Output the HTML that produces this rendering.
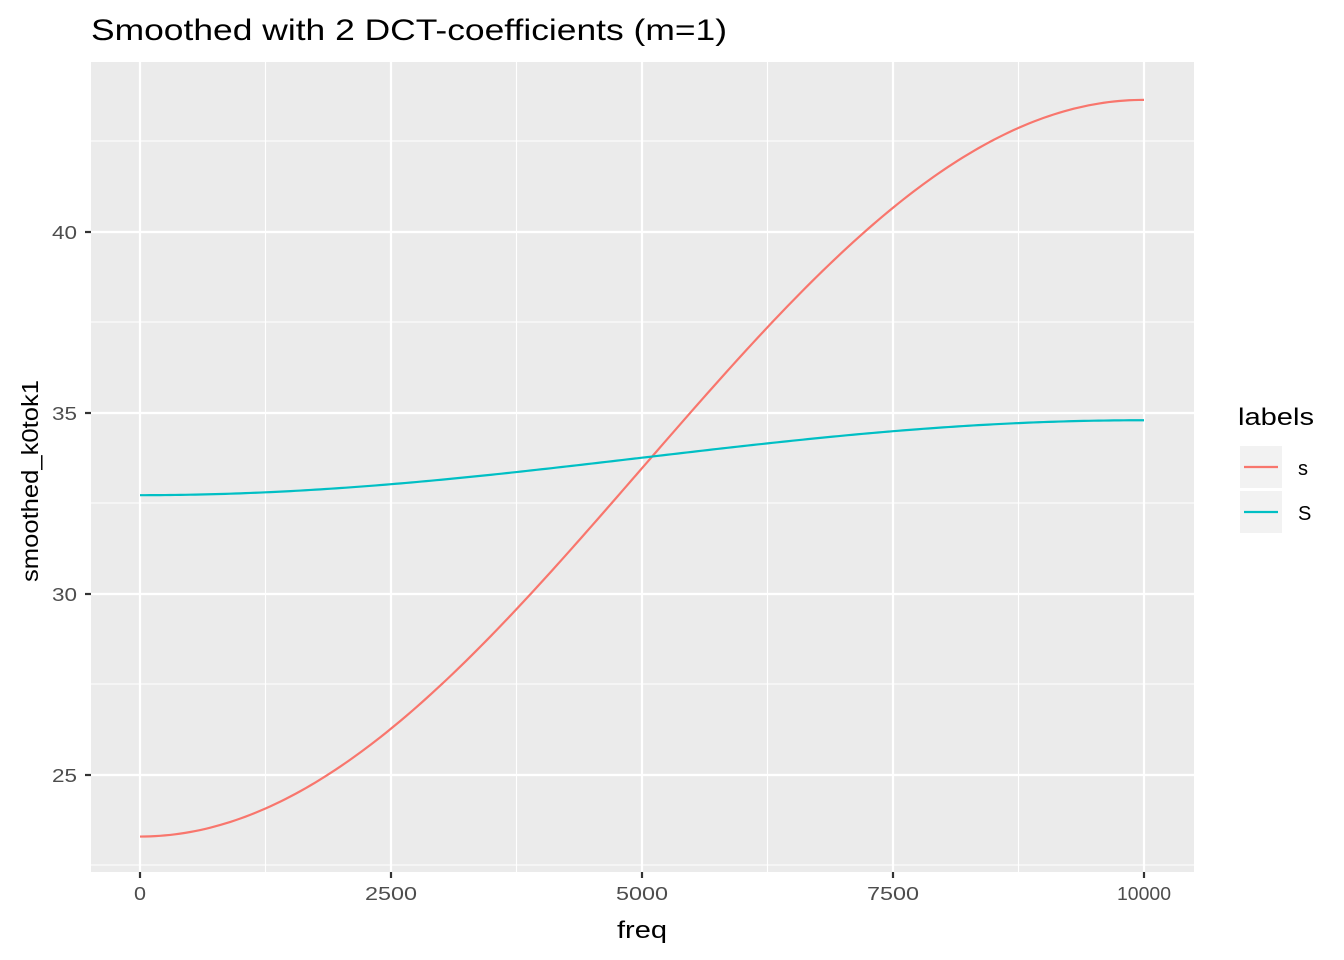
<!DOCTYPE html>
<html><head><meta charset="utf-8"><style>
html,body{margin:0;padding:0;background:#fff;}
svg{display:block;font-family:"Liberation Sans",sans-serif;}
</style></head><body>
<svg id="s" width="1344" height="960" xmlns="http://www.w3.org/2000/svg">
<rect x="0" y="0" width="1344" height="960" fill="#fff"/>
<rect x="91" y="62" width="1103" height="810" fill="#ebebeb"/>
<g stroke="#fff" stroke-width="1.1">
<line x1="91" x2="1194" y1="141" y2="141"/><line x1="91" x2="1194" y1="322" y2="322"/>
<line x1="91" x2="1194" y1="503" y2="503"/><line x1="91" x2="1194" y1="684" y2="684"/>
<line x1="91" x2="1194" y1="865" y2="865"/>
<line y1="62" y2="872" x1="265.5" x2="265.5"/><line y1="62" y2="872" x1="516.5" x2="516.5"/>
<line y1="62" y2="872" x1="767.5" x2="767.5"/><line y1="62" y2="872" x1="1018.5" x2="1018.5"/>
</g>
<g stroke="#fff" stroke-width="2.2">
<line x1="91" x2="1194" y1="232" y2="232"/><line x1="91" x2="1194" y1="413" y2="413"/>
<line x1="91" x2="1194" y1="594" y2="594"/><line x1="91" x2="1194" y1="775" y2="775"/>
<line y1="62" y2="872" x1="140" x2="140"/><line y1="62" y2="872" x1="391" x2="391"/>
<line y1="62" y2="872" x1="642" x2="642"/><line y1="62" y2="872" x1="893" x2="893"/>
<line y1="62" y2="872" x1="1144" x2="1144"/>
</g>
<path id="red" fill="none" stroke="#f8766d" stroke-width="2.2"/>
<path id="blue" fill="none" stroke="#00bfc4" stroke-width="2.2"/>
<g stroke="#333" stroke-width="2.2">
<line x1="85" x2="91" y1="232" y2="232"/><line x1="85" x2="91" y1="413" y2="413"/>
<line x1="85" x2="91" y1="594" y2="594"/><line x1="85" x2="91" y1="775" y2="775"/>
<line y1="872" y2="878" x1="140" x2="140"/><line y1="872" y2="878" x1="391" x2="391"/>
<line y1="872" y2="878" x1="642" x2="642"/><line y1="872" y2="878" x1="893" x2="893"/>
<line y1="872" y2="878" x1="1144" x2="1144"/>
</g>
<g fill="#4d4d4d" font-size="18">
<text x="52" y="239" textLength="25" lengthAdjust="spacingAndGlyphs">40</text>
<text x="52" y="420" textLength="25" lengthAdjust="spacingAndGlyphs">35</text>
<text x="52" y="601" textLength="25" lengthAdjust="spacingAndGlyphs">30</text>
<text x="52" y="782" textLength="25" lengthAdjust="spacingAndGlyphs">25</text>
</g>
<g fill="#4d4d4d" font-size="18">
<text x="134" y="900" textLength="12" lengthAdjust="spacingAndGlyphs">0</text>
<text x="365" y="900" textLength="52" lengthAdjust="spacingAndGlyphs">2500</text>
<text x="616" y="900" textLength="52" lengthAdjust="spacingAndGlyphs">5000</text>
<text x="867" y="900" textLength="52" lengthAdjust="spacingAndGlyphs">7500</text>
<text x="1117" y="900" textLength="54" lengthAdjust="spacingAndGlyphs">10000</text>
</g>
<text x="617" y="938" font-size="24" textLength="50" lengthAdjust="spacingAndGlyphs">freq</text>
<text transform="translate(38,582) rotate(-90)" font-size="23" textLength="202" lengthAdjust="spacingAndGlyphs">smoothed_k0tok1</text>
<text x="91" y="40" font-size="30" textLength="636" lengthAdjust="spacingAndGlyphs">Smoothed with 2 DCT-coefficients (m=1)</text>
<text x="1238" y="425" font-size="24" textLength="76" lengthAdjust="spacingAndGlyphs">labels</text>
<rect x="1240" y="446" width="42" height="42" fill="#f2f2f2"/>
<rect x="1240" y="491" width="42" height="42" fill="#f2f2f2"/>
<line x1="1244" x2="1278" y1="467" y2="467" stroke="#f8766d" stroke-width="2.2"/>
<line x1="1244" x2="1278" y1="512" y2="512" stroke="#00bfc4" stroke-width="2.2"/>
<text x="1298" y="475" font-size="20">s</text>
<text x="1298" y="520" font-size="20">S</text>
</svg>
<script>
function mk(a,b){var d="";for(var i=0;i<=200;i++){var f=i/200;var v=a-b*Math.cos(Math.PI*f);var x=140+1004*f;var y=232+(40-v)*36.2;d+=(i?"L":"M")+x.toFixed(2)+" "+y.toFixed(2);}return d;}
document.getElementById("red").setAttribute("d",mk(33.475,10.175));
document.getElementById("blue").setAttribute("d",mk(33.765,1.035));
</script>
</body></html>
